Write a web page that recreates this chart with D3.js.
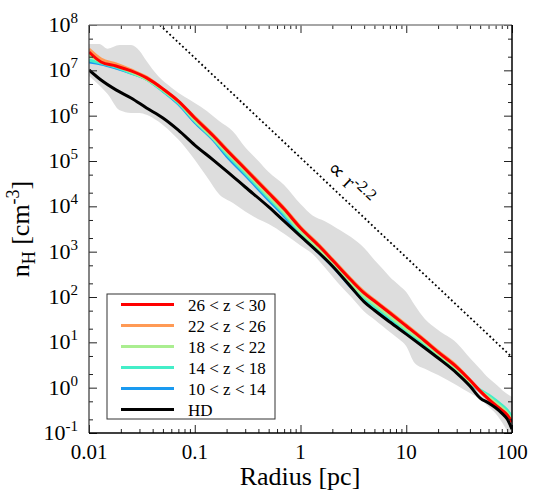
<!DOCTYPE html>
<html>
<head>
<meta charset="utf-8">
<script src="https://cdn.jsdelivr.net/npm/d3@7"></script>
</head>
<body style="margin:0">
<svg id="chart" width="550" height="500"></svg>
<script>
const width = 550;
const height = 500;
const plot = {left: 89, right: 512, top: 25, bottom: 433};
const fontName = 'Liberation Serif';

// radius grid of the mean profiles [pc]
const radius = [0.01, 0.013, 0.018, 0.025, 0.035, 0.05, 0.07, 0.1, 0.15, 0.2, 0.3, 0.5, 0.7,
  1, 1.5, 2, 3, 4, 5, 7, 10, 15, 20, 30, 40, 50, 60, 70, 80, 90, 100];

// n_H [cm^-3] per redshift bin
const nZ26 = [2.54e7, 1.53e7, 1.25e7, 9.7e6, 6.8e6, 3.9e6, 2.1e6, 8.9e5, 3.56e5, 1.75e5, 6.65e4, 1.97e4, 8.7e3,
  3.33e3, 1.33e3, 655, 237, 122, 81.5, 44.4, 22.9, 10.7, 6.1, 2.85, 1.47, 0.84, 0.56, 0.41, 0.32, 0.25, 0.175];
const nZ22 = [2.95e7, 1.78e7, 1.38e7, 1.02e7, 7.1e6, 3.9e6, 2.1e6, 9.3e5, 3.74e5, 1.84e5, 7.0e4, 2.07e4, 9.2e3,
  3.5e3, 1.40e3, 689, 249, 129, 86, 46.6, 24.1, 11.2, 6.4, 3.0, 1.47, 0.84, 0.56, 0.41, 0.32, 0.25, 0.175];
const nZ18 = [2.18e7, 1.53e7, 1.25e7, 9.2e6, 6.4e6, 3.7e6, 2.0e6, 8.0e5, 3.2e5, 1.58e5, 6.0e4, 1.69e4, 7.5e3,
  2.86e3, 1.14e3, 562, 203, 105, 70, 38, 19.7, 9.7, 5.5, 2.58, 1.33, 0.84, 0.62, 0.46, 0.36, 0.275, 0.193];
const nZ14 = [1.69e7, 1.45e7, 1.18e7, 8.7e6, 6.4e6, 3.5e6, 1.9e6, 7.6e5, 3.05e5, 1.43e5, 5.4e4, 1.53e4, 6.8e3,
  2.58e3, 1.03e3, 507, 184, 90, 60, 34.4, 17.8, 8.7, 5.25, 2.45, 1.33, 0.89, 0.69, 0.53, 0.41, 0.32, 0.225];
const nZ10 = [1.53e7, 1.38e7, 1.12e7, 8.7e6, 6.4e6, 3.5e6, 1.81e6, 7.2e5, 2.9e5, 1.29e5, 4.9e4, 1.38e4, 6.1e3,
  2.33e3, 933, 482, 166, 81.5, 54.3, 31, 16.9, 8.3, 5.0, 2.33, 1.26, 0.84, 0.65, 0.51, 0.39, 0.31, 0.214];
const nHD = [1.02e7, 6.1e6, 3.7e6, 2.45e6, 1.48e6, 8.9e5, 4.8e5, 2.25e5, 1.05e5, 6.0e4, 2.67e4, 9.7e3, 4.7e3,
  2.2e3, 933, 482, 166, 78, 51, 28, 15.2, 7.5, 4.5, 2.1, 1.09, 0.59, 0.46, 0.36, 0.275, 0.203, 0.122];

const seriesNames = ['26 < z < 30', '22 < z < 26', '18 < z < 22', '14 < z < 18', '10 < z < 14', 'HD'];
const seriesColors = ['#ff0000', '#ff9a55', '#aaee90', '#44eec8', '#1a9af0', '#000000'];
const seriesValues = [nZ26, nZ22, nZ18, nZ14, nZ10, nHD];

// scatter envelope (grey band)
const bandRadius = [0.01, 0.0125, 0.015, 0.0195, 0.025, 0.03, 0.035, 0.045, 0.06, 0.08, 0.1, 0.13, 0.17,
  0.23, 0.3, 0.4, 0.5, 0.7, 1, 1.3, 1.7, 2.2, 3, 4, 5, 6, 7, 8.5, 10, 12, 15, 20, 30, 40, 50, 60, 70, 85, 100];
const bandUpper = [3.8e7, 3.8e7, 3.0e7, 3.6e7, 3.6e7, 2.7e7, 1.6e7, 7.5e6, 4.2e6, 2.6e6, 1.9e6, 1.27e6, 7.6e5,
  4.5e5, 2.0e5, 1.0e5, 5.7e4, 2.95e4, 1.12e4, 6.3e3, 4.7e3, 3.3e3, 2.1e3, 1.2e3, 655, 414, 276, 184, 129,
  66.5, 32.7, 18.7, 9.7, 4.5, 2.58, 1.63, 1.2, 0.80, 0.62];
const bandLower = [7.5e6, 4.7e6, 3.0e6, 1.31e6, 1.15e6, 1.15e6, 1.05e6, 7.5e5, 4.25e5, 2.1e5, 1.07e5, 4.5e4, 1.84e4,
  1.18e4, 7.7e3, 5.2e3, 4.1e3, 2.5e3, 1.37e3, 887, 447, 219, 101, 48, 32, 22.6, 16.8, 11.8, 8.2,
  3.5, 2.6, 1.9, 1.13, 0.76, 0.56, 0.38, 0.27, 0.14, 0.07];

// r^-2.2 guide line
const slopeRadius = [0.0468, 100];
const slopeDensity = [1e8, 4.7];

const xTicks = [0.01, 0.1, 1, 10, 100];
const xTickLabels = ['0.01', '0.1', '1', '10', '100'];
const yTickExponents = [-1, 0, 1, 2, 3, 4, 5, 6, 7, 8];

const svg = d3.select('#chart');

const x = d3.scaleLog().domain([0.01, 100]).range([plot.left, plot.right]);
const y = d3.scaleLog().domain([0.1, 1e8]).range([plot.bottom, plot.top]);

svg.append('clipPath').attr('id', 'clip')
  .append('rect')
  .attr('x', plot.left).attr('y', plot.top)
  .attr('width', plot.right - plot.left).attr('height', plot.bottom - plot.top);

const inner = svg.append('g').attr('clip-path', 'url(#clip)');

// grey band
const band = d3.area()
  .x((d, i) => x(bandRadius[i]))
  .y0((d, i) => y(bandLower[i]))
  .y1((d, i) => y(bandUpper[i]))
  .curve(d3.curveMonotoneX);
inner.append('path')
  .datum(bandRadius)
  .attr('d', band)
  .style('fill', '#dddddd');

// dotted power law
inner.append('path')
  .datum(slopeRadius)
  .attr('d', d3.line().x(d => x(d)).y((d, i) => y(slopeDensity[i])))
  .style('fill', 'none')
  .style('stroke', '#000')
  .style('stroke-width', 1.8)
  .style('stroke-dasharray', '1.8,2.6');

// profiles, HD drawn last
const line = d3.line()
  .x((d, i) => x(radius[i]))
  .y(d => y(d))
  .curve(d3.curveMonotoneX);

[4, 3, 2, 1, 0, 5].forEach(k => {
  inner.append('path')
    .datum(seriesValues[k])
    .attr('d', line)
    .style('fill', 'none')
    .style('stroke', seriesColors[k])
    .style('stroke-width', 3)
    .style('stroke-linejoin', 'round');
});

// ticks (inward on all four sides)
const xMinor = [];
[0.01, 0.1, 1, 10].forEach(dec => d3.range(2, 10).forEach(m => xMinor.push(dec * m)));
const yMajor = yTickExponents.map(e => Math.pow(10, e));
const yMinor = [];
yTickExponents.slice(0, -1).forEach(e => [2, 5].forEach(m => yMinor.push(m * Math.pow(10, e))));

function tickAxis(axisFn, scale, values, size, transform) {
  const g = svg.append('g')
    .attr('transform', transform)
    .call(axisFn(scale).tickValues(values).tickSize(-size).tickFormat(''));
  g.select('.domain').remove();
  g.selectAll('text').remove();
  g.selectAll('line').style('stroke', '#222').style('stroke-width', 1);
}
tickAxis(d3.axisBottom, x, xTicks, 8, `translate(0,${plot.bottom})`);
tickAxis(d3.axisBottom, x, xMinor, 4, `translate(0,${plot.bottom})`);
tickAxis(d3.axisTop, x, xTicks, 8, `translate(0,${plot.top})`);
tickAxis(d3.axisTop, x, xMinor, 4, `translate(0,${plot.top})`);
tickAxis(d3.axisLeft, y, yMajor, 8, `translate(${plot.left},0)`);
tickAxis(d3.axisLeft, y, yMinor, 4, `translate(${plot.left},0)`);
tickAxis(d3.axisRight, y, yMajor, 8, `translate(${plot.right},0)`);
tickAxis(d3.axisRight, y, yMinor, 4, `translate(${plot.right},0)`);

// frame
svg.append('line').attr('x1', plot.left).attr('x2', plot.right).attr('y1', plot.top).attr('y2', plot.top)
  .style('stroke', '#888').style('stroke-width', 1.5);
svg.append('line').attr('x1', plot.left).attr('x2', plot.left).attr('y1', plot.top).attr('y2', plot.bottom)
  .style('stroke', '#333').style('stroke-width', 1.2);
svg.append('line').attr('x1', plot.right).attr('x2', plot.right).attr('y1', plot.top).attr('y2', plot.bottom)
  .style('stroke', '#000').style('stroke-width', 1.5);
svg.append('line').attr('x1', plot.left).attr('x2', plot.right).attr('y1', plot.bottom).attr('y2', plot.bottom)
  .style('stroke', '#000').style('stroke-width', 1.5);

function serifText(sel, size) {
  return sel.attr('font-family', fontName)
    .style('font-family', `"${fontName}"`)
    .style('font-size', size);
}

// tick labels
serifText(svg.selectAll('.xlab')
  .data(xTicks)
  .enter()
  .append('text')
  .attr('class', 'xlab')
  .attr('x', d => x(d))
  .attr('y', 459)
  .attr('text-anchor', 'middle'), '21px')
  .text((d, i) => xTickLabels[i]);

const ylab = serifText(svg.selectAll('.ylab')
  .data(yTickExponents)
  .enter()
  .append('text')
  .attr('class', 'ylab')
  .attr('x', 78)
  .attr('y', d => y(Math.pow(10, d)) + 7)
  .attr('text-anchor', 'end'), '22px');
ylab.append('tspan').text('10');
ylab.append('tspan').attr('dy', -9).style('font-size', '15px').text(d => d);

// axis titles
serifText(svg.append('text')
  .attr('x', 300)
  .attr('y', 485)
  .attr('text-anchor', 'middle'), '26px')
  .text('Radius [pc]');

const ytitle = serifText(svg.append('text')
  .attr('transform', `translate(29,${(plot.top + plot.bottom) / 2}) rotate(-90)`)
  .attr('text-anchor', 'middle'), '26px');
ytitle.append('tspan').text('n');
ytitle.append('tspan').attr('dy', 6).style('font-size', '18px').text('H');
ytitle.append('tspan').attr('dy', -6).text(' [cm');
ytitle.append('tspan').attr('dy', -10).style('font-size', '18px').text('-3');
ytitle.append('tspan').attr('dy', 10).text(']');

// power-law label
const plab = serifText(svg.append('text')
  .attr('transform', 'translate(326,170) rotate(43.3)'), '22px');
plab.append('tspan').text('\u221d r');
plab.append('tspan').attr('dy', -8).style('font-size', '16px').text('-2.2');

// legend
const legend = svg.append('g');
legend.append('rect')
  .attr('x', 107).attr('y', 294).attr('width', 168).attr('height', 125)
  .style('fill', '#fff').style('stroke', '#333').style('stroke-width', 1);
const entry = legend.selectAll('.entry')
  .data(seriesNames)
  .enter()
  .append('g')
  .attr('class', 'entry')
  .attr('transform', (d, i) => `translate(0,${304.5 + i * 21})`);
entry.append('line')
  .attr('x1', 121).attr('x2', 174)
  .style('stroke', (d, i) => seriesColors[i])
  .style('stroke-width', 3);
serifText(entry.append('text')
  .attr('x', 188).attr('y', 6), '17px')
  .text(d => d);
</script>
</body>
</html>
